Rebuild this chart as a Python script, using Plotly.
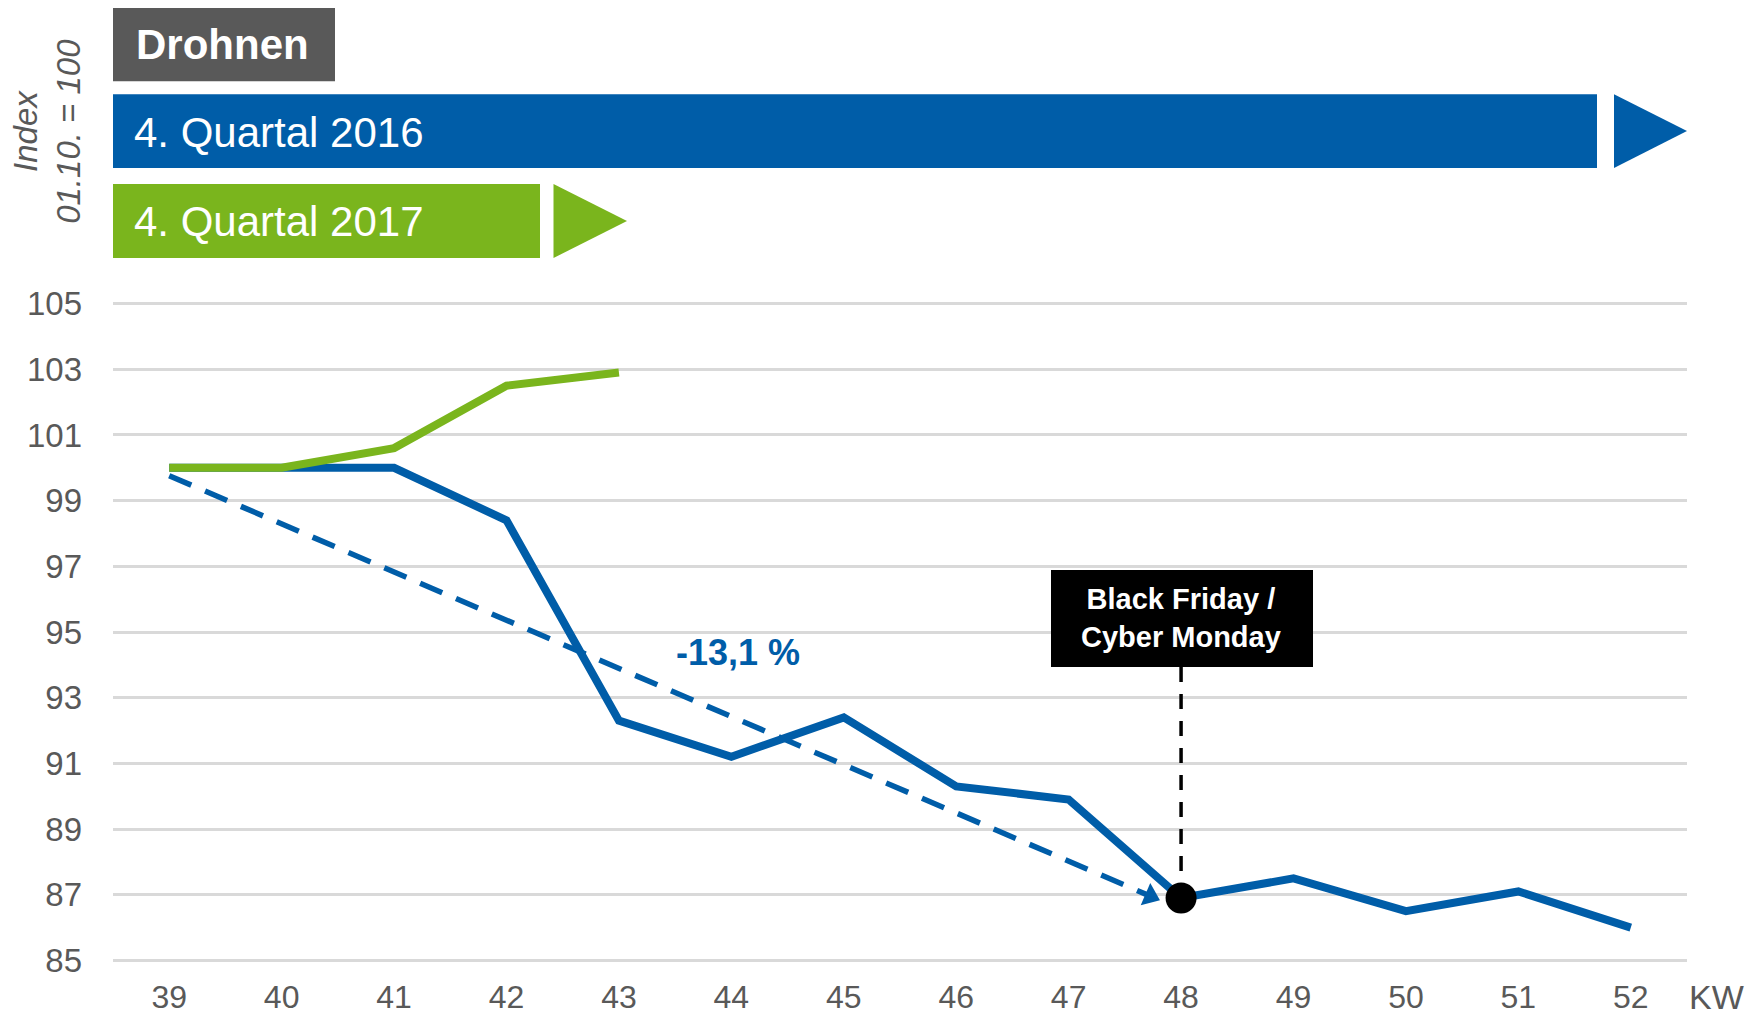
import math
import plotly.graph_objects as go

# ---- data ----
weeks = [39, 40, 41, 42, 43, 44, 45, 46, 47, 48, 49, 50, 51, 52]
q4_2016 = [100, 100, 100, 98.4, 92.3, 91.2, 92.4, 90.3, 89.9, 86.9, 87.5, 86.5, 87.1, 86.0]
weeks_2017 = [39, 40, 41, 42, 43]
q4_2017 = [100, 100, 100.6, 102.5, 102.9]
trend_weeks = [39, 47.8]
trend_values = [99.76, 86.85]
event_week = 48
change_label = "-13,1 %"
y_ticks = [85, 87, 89, 91, 93, 95, 97, 99, 101, 103, 105]

BLUE = "#005DA8"
GREEN = "#7AB51D"
GRAY = "#595959"
FONT = "Liberation Sans, Arial, sans-serif"

OFF = 8  # page body margin
W, H = 1764 - 2 * OFF, 1017 - OFF
XR = [38.5, 52.5]
YR = [84.8, 105.2]
# reference pixel positions of the plot region
L0, R0 = 113, 1687
PX_U = 32.8
T0 = 304 - (YR[1] - 105) * PX_U
B0 = 960 + (85 - YR[0]) * PX_U
L, R, T, B = L0 - OFF, R0 - OFF, T0 - OFF, B0 - OFF


def px(x):
    return (x - OFF - L) / (R - L)


def py(y):
    return (B - (y - OFF)) / (B - T)


def dx(xpix):
    return XR[0] + (xpix - OFF - L) / (R - L) * (XR[1] - XR[0])


def dy(ypix):
    return YR[0] + (B - (ypix - OFF)) / (B - T) * (YR[1] - YR[0])


fig = go.Figure()

# trend (dashed arrow)
xs_per_w = (R - L) / (XR[1] - XR[0])
ys_per_u = (B - T) / (YR[1] - YR[0])
ddx = (trend_weeks[1] - trend_weeks[0]) * xs_per_w
ddy = (trend_values[0] - trend_values[1]) * ys_per_u
ang = math.degrees(math.atan2(ddy, ddx))
back = 9
cx = trend_weeks[1] - back * math.cos(math.radians(ang)) / xs_per_w
cy = trend_values[1] + back * math.sin(math.radians(ang)) / ys_per_u

fig.add_trace(go.Scatter(
    x=[trend_weeks[0], cx], y=[trend_values[0], cy], mode="lines",
    line=dict(color=BLUE, width=5.5, dash="24px,15px"), hoverinfo="skip"))
fig.add_trace(go.Scatter(
    x=[cx], y=[cy], mode="markers",
    marker=dict(symbol="triangle-right", size=21, angle=ang, color=BLUE,
                line=dict(width=0)), hoverinfo="skip"))

fig.add_trace(go.Scatter(x=weeks, y=q4_2016, mode="lines",
                         line=dict(color=BLUE, width=8), name="4. Quartal 2016"))
fig.add_trace(go.Scatter(x=weeks_2017, y=q4_2017, mode="lines",
                         line=dict(color=GREEN, width=8), name="4. Quartal 2017"))

ev_val = q4_2016[weeks.index(event_week)]
box_x0, box_x1 = dx(1051), dx(1313)
box_y1, box_y0 = dy(570), dy(667)

# vertical dashed line to event box
fig.add_shape(type="line", x0=event_week, x1=event_week, y0=ev_val, y1=box_y0,
              line=dict(color="black", width=3.5, dash="15px,12px"), layer="above")
fig.add_trace(go.Scatter(x=[event_week], y=[ev_val], mode="markers",
                         marker=dict(color="black", size=31), hoverinfo="skip"))

fig.add_shape(type="rect", x0=box_x0, x1=box_x1, y0=box_y0, y1=box_y1,
              fillcolor="black", line=dict(width=0), layer="above")
fig.add_annotation(x=event_week, y=(box_y0 + box_y1) / 2, text="<b>Black Friday /<br>Cyber Monday</b>",
                   showarrow=False, font=dict(family=FONT, size=29, color="white"),
                   xanchor="center", yanchor="middle")

fig.add_annotation(x=dx(738), y=dy(652.5), text="<b>" + change_label + "</b>", showarrow=False,
                   font=dict(family=FONT, size=36, color=BLUE), xanchor="center", yanchor="middle")

# header shapes
fig.add_shape(type="rect", xref="paper", yref="paper", x0=px(113), x1=px(335), y0=py(82), y1=py(5),
              fillcolor=GRAY, line=dict(width=0))
fig.add_annotation(xref="paper", yref="paper", x=px(134), y=py(45), text="<b>Drohnen</b>",
                   showarrow=False, xanchor="left", yanchor="middle",
                   font=dict(family=FONT, size=42, color="white"))

fig.add_shape(type="rect", xref="paper", yref="paper", x0=px(113), x1=px(1597), y0=py(168.5), y1=py(95),
              fillcolor=BLUE, line=dict(width=0))
fig.add_shape(type="path", xref="paper", yref="paper",
              path=f"M {px(1614)},{py(95)} L {px(1687)},{py(131.7)} L {px(1614)},{py(168.5)} Z",
              fillcolor=BLUE, line=dict(width=0))
fig.add_annotation(xref="paper", yref="paper", x=px(132), y=py(133), text="4. Quartal 2016",
                   showarrow=False, xanchor="left", yanchor="middle",
                   font=dict(family=FONT, size=42, color="white"))

fig.add_shape(type="rect", xref="paper", yref="paper", x0=px(113), x1=px(540), y0=py(258.5), y1=py(184.5),
              fillcolor=GREEN, line=dict(width=0))
fig.add_shape(type="path", xref="paper", yref="paper",
              path=f"M {px(553.5)},{py(184.5)} L {px(627)},{py(221.5)} L {px(553.5)},{py(258.5)} Z",
              fillcolor=GREEN, line=dict(width=0))
fig.add_annotation(xref="paper", yref="paper", x=px(132), y=py(222), text="4. Quartal 2017",
                   showarrow=False, xanchor="left", yanchor="middle",
                   font=dict(family=FONT, size=42, color="white"))

# y title
fig.add_annotation(xref="paper", yref="paper", x=px(47), y=py(132.5), text="<i>Index<br>01.10. = 100</i>",
                   showarrow=False, textangle=-90, xanchor="center", yanchor="middle",
                   font=dict(family=FONT, size=33, color=GRAY))
# KW label
fig.add_annotation(xref="paper", yref="paper", x=px(1716), y=py(997), text="KW",
                   showarrow=False, xanchor="center", yanchor="middle",
                   font=dict(family=FONT, size=34, color=GRAY))

fig.update_layout(
    width=W, height=H,
    margin=dict(l=L, r=W - R, t=T, b=H - B, pad=0, autoexpand=False),
    paper_bgcolor="white", plot_bgcolor="white",
    showlegend=False,
    font=dict(family=FONT, color=GRAY),
    xaxis=dict(range=XR, tickvals=weeks, ticktext=[str(w) for w in weeks], automargin=False,
               showgrid=False, zeroline=False, showline=False,
               tickfont=dict(size=32, color=GRAY), ticks="", ticklabelstandoff=8),
    yaxis=dict(range=YR, tickvals=y_ticks, showgrid=True, gridcolor="#D9D9D9", automargin=False,
               gridwidth=2.5, zeroline=False, showline=False,
               tickfont=dict(size=33, color=GRAY), ticks="", ticklabelstandoff=30),
)

fig.write_html("out.html")
